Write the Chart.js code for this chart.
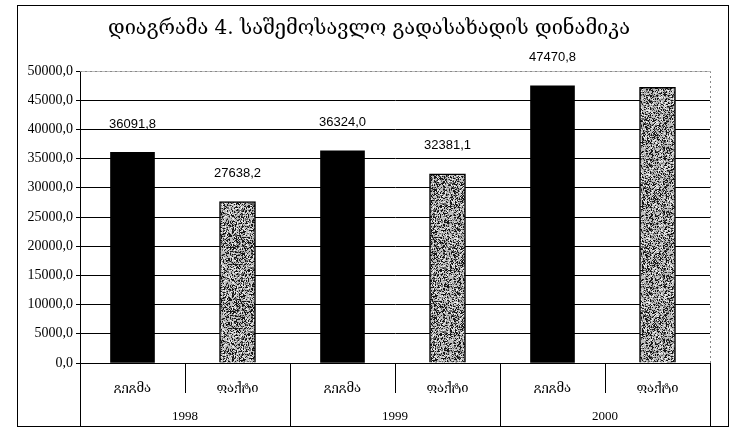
<!DOCTYPE html>
<html>
<head>
<meta charset="utf-8">
<script src="https://cdn.jsdelivr.net/npm/chart.js@4.4.1/dist/chart.umd.min.js"></script>
<style>
  html, body { margin: 0; padding: 0; background: #fff; }
  #wrap { width: 738px; height: 428px; position: relative; }
</style>
</head>
<body>
<div id="wrap"><canvas id="grafica"></canvas></div>
<script>
const titulo = 'დიაგრამა 4. საშემოსავლო გადასახადის დინამიკა';
const etiquetas = ['გეგმა', 'ფაქტი', 'გეგმა', 'ფაქტი', 'გეგმა', 'ფაქტი'];
const anios = ['1998', '1999', '2000'];
const plan = [36091.8, null, 36324.0, null, 47470.8, null];
const fact = [null, 27638.2, null, 32381.1, null, 47200];
const mostrarValor = [true, true, true, true, true, false];

function coma(v) {
  return v.toFixed(1).replace('.', ',');
}

// textura punteada gris para las barras de "ფაქტი"
function crearTextura() {
  const c = document.createElement('canvas');
  c.width = 64; c.height = 64;
  const g = c.getContext('2d');
  g.fillStyle = '#bdbdbd';
  g.fillRect(0, 0, 64, 64);
  let s = 12345;
  const sig = () => { s = (s * 16807) % 2147483647; return s / 2147483647; };
  for (let i = 0; i < 3200; i++) {
    const x = Math.floor(sig() * 64);
    const y = Math.floor(sig() * 64);
    const r = sig();
    g.fillStyle = r < 0.2 ? '#f0f0f0' : (r < 0.5 ? '#666666' : '#151515');
    g.fillRect(x, y, 1, 1);
  }
  return g.createPattern(c, 'repeat');
}

const marco = {
  id: 'marco',
  afterDraw(chart) {
    const ctx = chart.ctx;
    const a = chart.chartArea;
    const x = chart.scales.x;
    ctx.save();
    // borde exterior
    ctx.strokeStyle = '#000';
    ctx.lineWidth = 1;
    ctx.strokeRect(17.5, 5.5, 711, 421);
    // borde punteado del area
    ctx.strokeStyle = '#888';
    ctx.setLineDash([2, 3]);
    ctx.beginPath();
    ctx.moveTo(a.left, a.top + 0.5);
    ctx.lineTo(a.right + 0.5, a.top + 0.5);
    ctx.lineTo(a.right + 0.5, a.bottom);
    ctx.stroke();
    ctx.setLineDash([]);
    // separadores de categorias
    ctx.strokeStyle = '#000';
    const n = etiquetas.length;
    for (let i = 0; i <= n; i++) {
      let px;
      if (i === 0) px = x.left;
      else if (i === n) px = x.right;
      else px = (x.getPixelForTick(i - 1) + x.getPixelForTick(i)) / 2;
      px = Math.round(px) + 0.5;
      const largo = (i % 2 === 0) ? 426 : 393;
      ctx.beginPath();
      ctx.moveTo(px, a.bottom);
      ctx.lineTo(px, largo);
      ctx.stroke();
    }
    // valores sobre las barras
    ctx.fillStyle = '#000';
    ctx.font = '13px "Liberation Sans", Arial, sans-serif';
    ctx.textAlign = 'center';
    ctx.textBaseline = 'middle';
    chart.data.datasets.forEach((ds, di) => {
      const meta = chart.getDatasetMeta(di);
      meta.data.forEach((bar, i) => {
        const v = ds.data[i];
        if (v == null || !mostrarValor[i]) return;
        ctx.fillText(coma(v), bar.x, bar.y - 28);
      });
    });
    ctx.restore();
  }
};

const ctx = document.getElementById('grafica').getContext('2d');
const grafica = new Chart(ctx, {
  type: 'bar',
  data: {
    labels: etiquetas,
    datasets: [
      {
        label: 'გეგმა',
        data: plan,
        backgroundColor: '#000',
        borderWidth: 0,
        barThickness: 44
      },
      {
        label: 'ფაქტი',
        data: fact,
        backgroundColor: crearTextura(),
        borderColor: '#000',
        borderWidth: 1.5,
        barThickness: 36
      }
    ]
  },
  options: {
    responsive: true,
    maintainAspectRatio: false,
    animation: false,
    layout: {
      padding: { left: 28, right: 28, top: 0, bottom: 0 }
    },
    datasets: {
      bar: { grouped: false }
    },
    scales: {
      y: {
        min: 0,
        max: 50000,
        ticks: {
          stepSize: 5000,
          color: '#000',
          padding: 3,
          font: { family: 'Liberation Serif', size: 14 },
          callback: (v) => coma(v)
        },
        grid: {
          color: (c) => (c.tick && c.tick.value === 50000) ? '#bbb' : '#000',
          tickColor: '#000',
          tickLength: 4
        },
        border: { color: '#000' },
        afterFit: (scale) => { scale.width = 52; }
      },
      x: {
        offset: true,
        ticks: {
          color: '#000',
          padding: 10,
          maxRotation: 0,
          font: { family: 'DejaVu Serif', size: 13 }
        },
        grid: { display: false },
        border: { color: '#000' },
        afterFit: (scale) => { scale.height = 30; }
      },
      x2: {
        type: 'category',
        position: 'bottom',
        labels: anios,
        offset: true,
        ticks: {
          color: '#000',
          padding: 8,
          font: { family: 'Liberation Serif', size: 13 }
        },
        grid: { display: false },
        border: { display: false },
        afterFit: (scale) => { scale.height = 35; }
      }
    },
    plugins: {
      legend: { display: false },
      tooltip: { enabled: false },
      title: {
        display: true,
        text: titulo,
        color: '#000',
        font: { family: 'DejaVu Serif', size: 20, weight: 'normal' },
        padding: { top: 17, bottom: 30 }
      }
    }
  },
  plugins: [marco]
});
</script>
</body>
</html>
